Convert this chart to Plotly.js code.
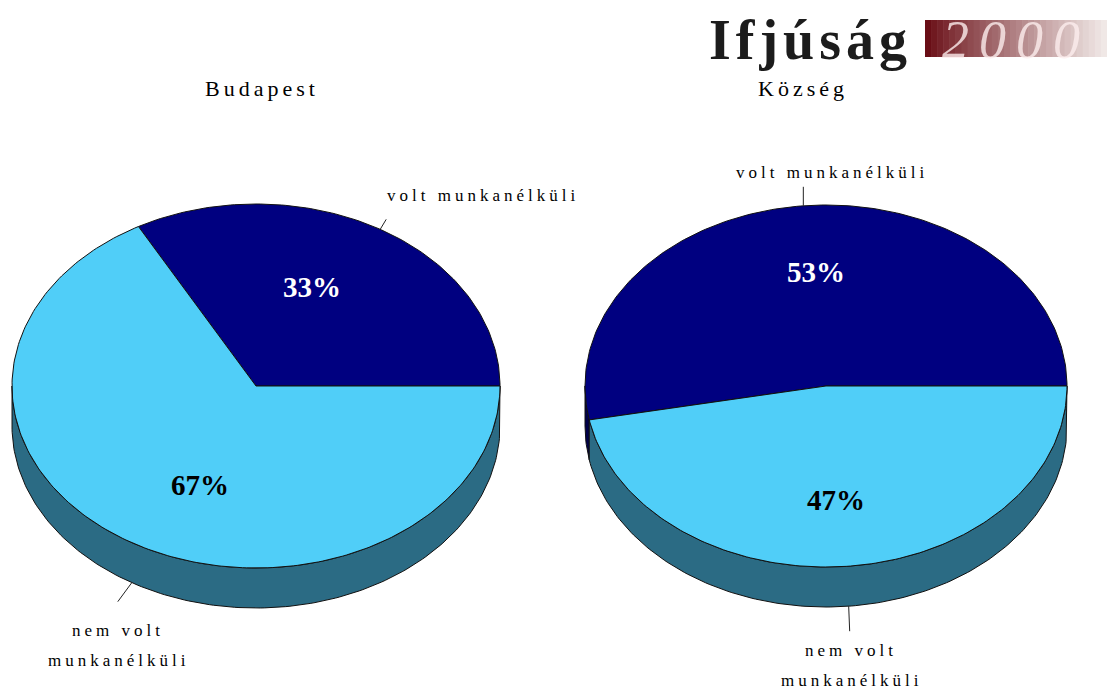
<!DOCTYPE html>
<html>
<head>
<meta charset="utf-8">
<script src="https://cdn.plot.ly/plotly-3.0.1.min.js"></script>
<style>
  html, body { margin: 0; padding: 0; background: #ffffff; }
  #chart { width: 1107px; height: 692px; }
</style>
</head>
<body>
<div id="chart"></div>
<script>
// ---------------- DATA ----------------
const pieTitles = ['Budapest', 'Község'];
const categories = ['volt munkanélküli', 'nem volt munkanélküli'];
const budapestValues = [33, 67];
const kozsegValues = [53, 47];
const logoWord = 'Ifjúság';
const logoYear = '2000';

// ---------------- LAYOUT / STYLE ----------------
const W = 1107, H = 692;
const faceColors = ['#000080', '#50CEF8'];
const sideColors = ['#00004A', '#2B6B84'];
const pctColors = ['#ffffff', '#000000'];
const serif = '"Liberation Serif", "Times New Roman", serif';

const pies = [
  { values: budapestValues, title: pieTitles[0], cx: 256, cy: 386, rx: 244, ry: 182, depth: 40,
    titlePos: [262, 88],
    outer: [ { pos: [483, 195], lead: [6, -10] }, { pos: [118, 645], lead: [-14, 19] } ] },
  { values: kozsegValues, title: pieTitles[1], cx: 826, cy: 386, rx: 241, ry: 181, depth: 40,
    titlePos: [803, 88],
    outer: [ { pos: [832, 172], lead: [0, -19] }, { pos: [851, 665], lead: [1, 25] } ] }
];

function spaced(txt, px) {
  return '<span style="letter-spacing:' + px + 'px">' + txt + '</span>';
}

const traces = [];
const annotations = [];
const shapes = [];
const faceTraces = [];

pies.forEach(function (p, pi) {
  const total = p.values.reduce(function (a, b) { return a + b; }, 0);
  let start = 0;
  p.values.forEach(function (v, i) {
    const a0 = start, a1 = start + v / total * 360;
    start = a1;
    const rad = Math.PI / 180;
    // side (visible only on the front half: 180..360 deg)
    const s0 = Math.max(a0, 180), s1 = Math.min(a1, 360);
    if (s1 > s0) {
      const sx = [], sy = [];
      for (let t = s0; t <= s1 + 1e-9; t += 1) {
        const tt = Math.min(t, s1);
        sx.push(p.cx + p.rx * Math.cos(tt * rad));
        sy.push(p.cy - p.ry * Math.sin(tt * rad));
      }
      sx.push(p.cx + p.rx * Math.cos(s1 * rad)); sy.push(p.cy - p.ry * Math.sin(s1 * rad));
      for (let t = s1; t >= s0 - 1e-9; t -= 1) {
        const tt = Math.max(t, s0);
        sx.push(p.cx + p.rx * Math.cos(tt * rad));
        sy.push(p.cy - p.ry * Math.sin(tt * rad) + p.depth);
      }
      sx.push(p.cx + p.rx * Math.cos(s0 * rad)); sy.push(p.cy - p.ry * Math.sin(s0 * rad) + p.depth);
      sx.push(sx[0]); sy.push(sy[0]);
      traces.push({
        type: 'scatter', mode: 'lines', x: sx, y: sy, fill: 'toself',
        fillcolor: sideColors[i], line: { color: '#111', width: 1 },
        hoverinfo: 'skip', showlegend: false
      });
    }
    // face wedge
    const fx = [p.cx], fy = [p.cy];
    for (let t = a0; t <= a1 + 1e-9; t += 1) {
      const tt = Math.min(t, a1);
      fx.push(p.cx + p.rx * Math.cos(tt * rad));
      fy.push(p.cy - p.ry * Math.sin(tt * rad));
    }
    fx.push(p.cx + p.rx * Math.cos(a1 * rad)); fy.push(p.cy - p.ry * Math.sin(a1 * rad));
    fx.push(p.cx); fy.push(p.cy);
    faceTraces.push({
      type: 'scatter', mode: 'lines', x: fx, y: fy, fill: 'toself',
      fillcolor: faceColors[i], line: { color: '#111', width: 1 },
      name: categories[i], text: p.title + ': ' + categories[i] + ' ' + Math.round(v / total * 100) + '%',
      hoveron: 'fills', hoverinfo: 'text', showlegend: false
    });
    // percent label
    const mid = (a0 + a1) / 2 * rad;
    annotations.push({
      x: p.cx + p.rx * Math.cos(mid) * 0.45,
      y: p.cy - p.ry * Math.sin(mid) * 0.63,
      xref: 'x', yref: 'y', showarrow: false,
      text: '<b>' + Math.round(v / total * 100) + '%</b>',
      font: { family: serif, size: 29, color: pctColors[i] }
    });
    // leader line + outer category label
    const ex = p.cx + p.rx * Math.cos(mid);
    let ey = p.cy - p.ry * Math.sin(mid);
    if (Math.sin(mid) < 0) ey += p.depth;
    const o = p.outer[i];
    shapes.push({
      type: 'line', xref: 'x', yref: 'y', x0: ex, y0: ey, x1: ex + o.lead[0], y1: ey + o.lead[1],
      line: { color: '#222', width: 1 }
    });
    const words = categories[i].split(' ');
    const lines = words.length > 2
      ? [words.slice(0, 2).join(' '), words.slice(2).join(' ')]
      : [categories[i]];
    lines.forEach(function (ln, li) {
      annotations.push({
        x: o.pos[0], y: o.pos[1] + (li - (lines.length - 1) / 2) * 30,
        xref: 'x', yref: 'y', showarrow: false,
        text: spaced(ln, 4),
        font: { family: serif, size: 17, color: '#000' }
      });
    });
  });
  // pie title
  annotations.push({
    x: p.titlePos[0], y: p.titlePos[1], xref: 'x', yref: 'y', showarrow: false,
    text: spaced(p.title, 4), font: { family: serif, size: 22, color: '#000' }
  });
});

// ---- logo (top right) ----
const boxX0 = 925, boxX1 = W, boxY0 = 20, boxY1 = 57, nSteps = 30;
const cA = [105, 14, 22], cB = [240, 232, 230];
for (let k = 0; k < nSteps; k++) {
  const f = k / (nSteps - 1);
  const c = cA.map(function (a, j) { return Math.round(a + (cB[j] - a) * Math.pow(f, 0.9)); });
  shapes.push({
    type: 'rect', xref: 'x', yref: 'y',
    x0: boxX0 + (boxX1 - boxX0) * k / nSteps, x1: boxX0 + (boxX1 - boxX0) * (k + 1) / nSteps + 0.6,
    y0: boxY0, y1: boxY1, line: { width: 0 }, fillcolor: 'rgb(' + c.join(',') + ')', layer: 'below'
  });
}
annotations.push({
  x: 707, y: 40, xref: 'x', yref: 'y', xanchor: 'left', showarrow: false,
  text: '<b>' + spaced(logoWord, 5) + '</b>', font: { family: serif, size: 56, color: '#1c1c1c' }
});
annotations.push({
  x: 1016, y: 40, xref: 'x', yref: 'y', showarrow: false,
  text: '<i>' + spaced(logoYear, 10) + '</i>',
  font: { family: serif, size: 54, color: 'rgba(252,238,238,0.8)' }
});

const layout = {
  width: W, height: H,
  margin: { l: 0, r: 0, t: 0, b: 0 },
  paper_bgcolor: '#ffffff', plot_bgcolor: '#ffffff',
  showlegend: false,
  xaxis: { range: [0, W], visible: false, fixedrange: true },
  yaxis: { range: [H, 0], visible: false, fixedrange: true },
  shapes: shapes,
  annotations: annotations
};

Plotly.newPlot('chart', traces.concat(faceTraces), layout, { displayModeBar: false, staticPlot: false });
</script>
</body>
</html>
